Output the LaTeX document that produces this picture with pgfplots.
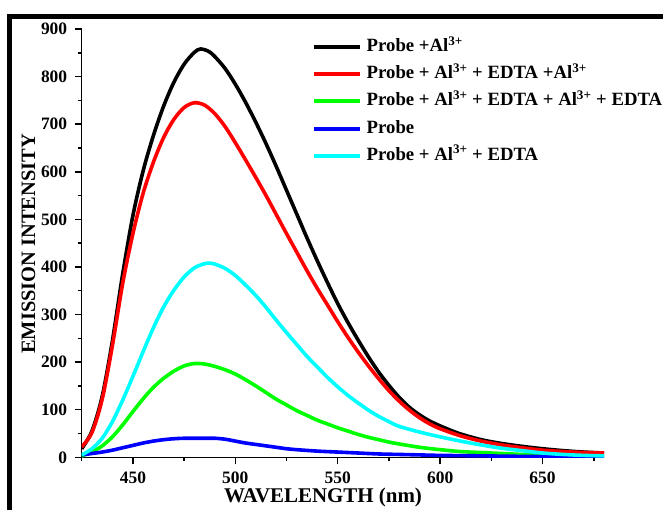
\documentclass[border=0pt]{standalone}
\usepackage{pgfplots}
\pgfplotsset{compat=1.18}
\usepackage{pgfplotstable}
\usepackage{fontspec}
\setmainfont{Liberation Serif}

% Emission spectra (wavelength in nm, intensity in a.u.)
\pgfplotstableread{
wl   I
425  18
430  55
435  128
440  245
445  385
450  508
455  602
460  676
465  738
470  788
475  826
480  851
483  858
487  853
490  842
495  817
500  784
505  746
510  704
515  659
520  611
525  561
530  511
535  461
540  413
545  367
550  323
555  283
560  246
565  211
570  179
575  151
580  126
585  105
590  89
595  76
600  66
605  57
610  49
620  37
630  29
640  23
650  18
660  14
670  11
680  9
}\probeAl

\pgfplotstableread{
wl   I
425  22
430  52
435  122
440  235
445  365
450  470
455  555
460  620
465  672
470  710
475  735
480  745
485  740
490  722
495  695
500  661
505  625
510  588
515  550
520  510
525  470
530  431
535  392
540  355
545  320
550  285
555  252
560  221
565  192
570  165
575  140
580  118
585  99
590  83
595  70
600  60
610  45
620  34
630  26
640  20
650  15
660  12
670  10
680  9
}\probeAlEdtaAl

\pgfplotstableread{
wl   I
425  3
430  11
435  24
440  43
445  68
450  96
455  123
460  147
465  166
470  181
475  192
480  197
485  196
490  191
495  184
500  175
505  163
510  150
515  136
520  122
525  110
530  98
535  88
540  78
545  70
550  62
555  55
560  48
565  42
570  37
575  32
580  28
590  21
600  16
610  12
620  10
630  8
640  6
650  5
660  4
670  3
680  3
}\probeAlEdtaAlEdta

\pgfplotstableread{
wl   I
425  5
430  8
435  11
440  15
445  20
450  25
455  30
460  34
465  37
470  39
475  40
480  40
485  40
490  40
495  38
500  34
505  30
510  27
515  24
520  21
525  18
530  16
540  13
550  11
560  9
570  7
580  6
590  5
600  4
620  3
640  2
660  2
680  1
}\probe

\pgfplotstableread{
wl   I
425  5
430  18
435  40
440  75
445  120
450  170
455  222
460  272
465  316
470  351
475  379
480  398
485  407
488  408
490  406
495  397
500  382
505  362
510  340
515  315
520  288
525  262
530  237
535  212
540  190
545  168
550  148
555  130
560  114
565  99
570  86
575  75
580  65
590  53
600  43
610  34
620  26
630  19
640  14
650  9
660  6
670  4
680  3
}\probeAlEdta

\begin{document}
\begin{tikzpicture}[x=1bp,y=1bp]
  % outer frame
  \draw[line width=5bp, line join=miter] (9.8,-30) -- (9.8,493.5) -- (700,493.5);

  \begin{axis}[
    at={(81.7bp,52.7bp)}, anchor=origin,
    scale only axis,
    width=522.3bp, height=428.3bp,
    xmin=425, xmax=680, ymin=0, ymax=900,
    enlargelimits=false,
    axis x line*=bottom, axis y line*=left,
    axis line style={line width=1.5bp},
    every tick/.style={line width=1.5bp, black},
    tick align=outside,
    major tick length=7bp, minor tick length=4bp,
    xtick={450,500,...,650},
    minor xtick={425,475,...,675},
    ytick={0,100,...,900},
    minor ytick={50,150,...,850},
    /pgf/number format/assume math mode=true,
    /pgf/number format/set thousands separator={},
    tick label style={font=\bfseries\fontsize{17.5}{17.5}\selectfont},
    xticklabel style={yshift=-4bp},
    yticklabel style={xshift=-4bp},
    xlabel={WAVELENGTH (nm)},
    ylabel={EMISSION INTENSITY},
    xlabel style={font=\bfseries\fontsize{21}{21}\selectfont,
      at={(axis description cs:0.462,-0.1067)}, anchor=base},
    ylabel style={font=\bfseries\fontsize{20.5}{20.5}\selectfont,
      at={(axis description cs:-0.0894,0.498)}, anchor=base, rotate=0},
    legend style={
      draw=none, fill=none,
      at={(axis description cs:0.441,0.982)}, anchor=north west,
      font=\bfseries\fontsize{18.8}{18.8}\selectfont,
      inner sep=0pt, row sep=7.2bp, column sep=3bp,
      nodes={inner sep=1.5bp, text height=13bp, text depth=4bp},
    },
    legend cell align=left,
    legend image code/.code={\draw[#1, line width=4bp] (0bp,0bp) -- (46bp,0bp);},
    every axis plot/.append style={line width=3.6bp, smooth, tension=0.5},
  ]
    \addplot[black]                                      table[x=wl,y=I] {\probeAl};
    \addplot[color={rgb,255:red,255;green,0;blue,0}]     table[x=wl,y=I] {\probeAlEdtaAl};
    \addplot[color={rgb,255:red,0;green,255;blue,0}]     table[x=wl,y=I] {\probeAlEdtaAlEdta};
    \addplot[color={rgb,255:red,0;green,0;blue,255}]     table[x=wl,y=I] {\probe};
    \addplot[color={rgb,255:red,0;green,255;blue,255}]   table[x=wl,y=I] {\probeAlEdta};
    \legend{
      Probe +Al\textsuperscript{3+},
      Probe + Al\textsuperscript{3+} + EDTA +Al\textsuperscript{3+},
      Probe + Al\textsuperscript{3+} + EDTA + Al\textsuperscript{3+} + EDTA,
      Probe,
      Probe + Al\textsuperscript{3+} + EDTA
    }
  \end{axis}
  \pgfresetboundingbox
  \useasboundingbox (0,0) rectangle (663,510);
\end{tikzpicture}
\end{document}
